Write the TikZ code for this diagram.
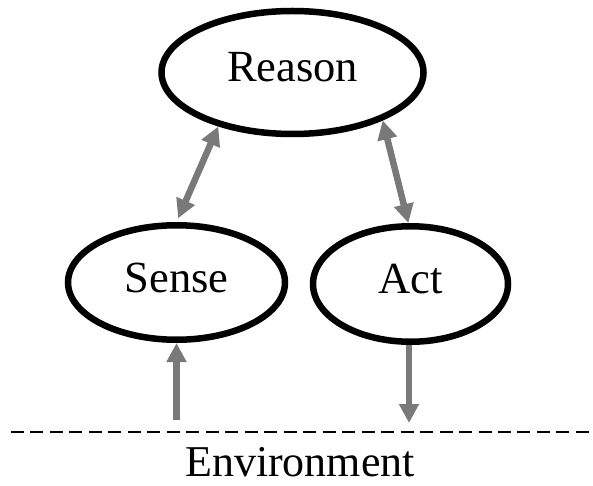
\documentclass[tikz,border=0pt]{standalone}
\usepackage{fontspec}
\setmainfont{Liberation Serif}
\usetikzlibrary{shapes.geometric,arrows.meta}
\begin{document}
\begin{tikzpicture}[x=1pt,y=-1pt,
  stage/.style={ellipse, draw=black, line width=6.5pt, inner sep=0pt,
    text height=29.5pt, text depth=10.5pt,
    font=\fontsize{44.5}{48}\selectfont},
  tip/.tip={Triangle[length=19pt,width=19pt]},
  link/.style={draw=gray!95!black, line width=6.5pt, -tip},
  biglink/.style={link, tip-tip}]
  \useasboundingbox (0,0) rectangle (593,486);

  \node[stage, minimum width=262pt, minimum height=123pt] (reason) at (292.5,72.5) {Reason};
  \node[stage, minimum width=217pt, minimum height=114.5pt] (sense) at (176.5,282.5) {Sense};
  \node[stage, minimum width=195pt, minimum height=115.5pt] (act) at (410.5,284) {Act};

  \coordinate (envin) at (176.5,420);
  \coordinate (envout) at (409,423);
  \coordinate (lineL) at (11,432);
  \coordinate (lineR) at (589,432);

  \draw[biglink, shorten >=4pt] (reason.216) -- (sense.90);
  \draw[biglink] (reason.332) -- (act.92);
  \draw[link] (envin) -- (sense.south);
  \draw[link] (act.south -| envout) -- (envout);

  \draw[line width=2pt, dash pattern=on 13pt off 6.48pt] (lineL) -- (lineR);
  \node[anchor=base, inner sep=0pt, font=\fontsize{44}{48}\selectfont] (env) at (300,476.5) {Environment};
\end{tikzpicture}
\end{document}
